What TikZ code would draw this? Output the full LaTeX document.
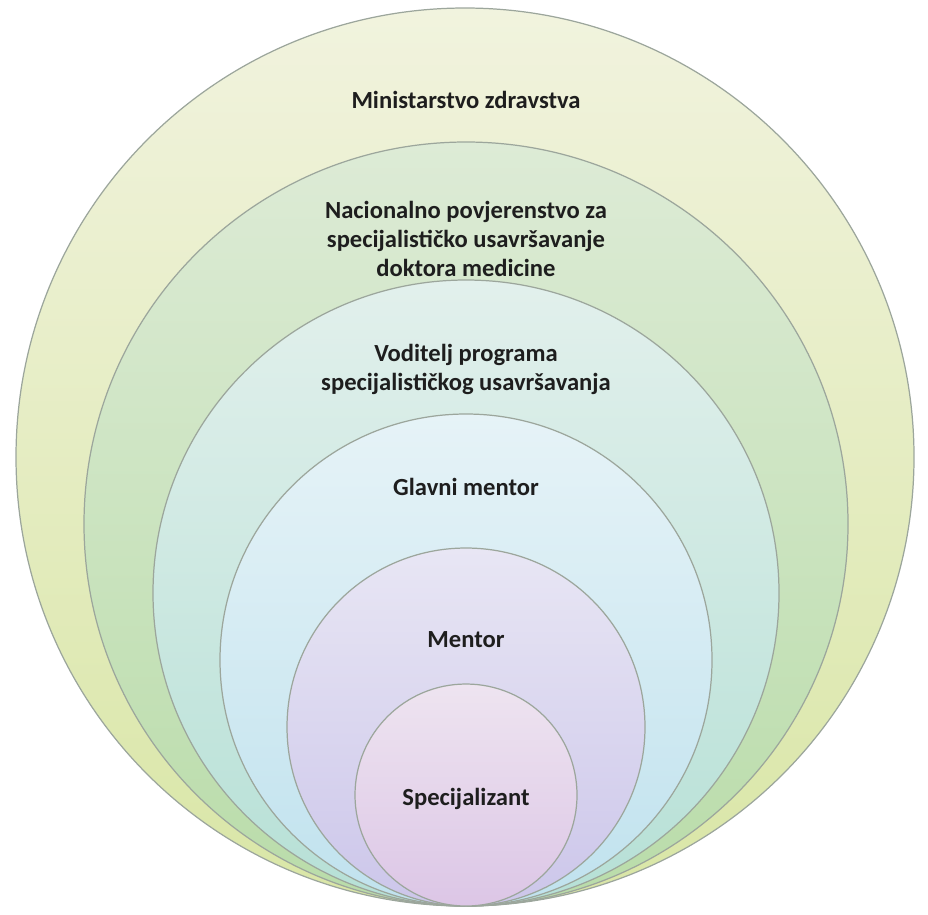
\documentclass[tikz,border=0pt]{standalone}
\usepackage{fontspec}
\setmainfont{Carlito}
\usepackage{xcolor}

\definecolor{ringAtop}{HTML}{F1F3DE}
\definecolor{ringAbot}{HTML}{D9E6A6}
\definecolor{ringBtop}{HTML}{DDEBD6}
\definecolor{ringBbot}{HTML}{B9DCA9}
\definecolor{ringCtop}{HTML}{E2F0EC}
\definecolor{ringCbot}{HTML}{B6E0D6}
\definecolor{ringDtop}{HTML}{E6F3F7}
\definecolor{ringDbot}{HTML}{C0E2EE}
\definecolor{ringEtop}{HTML}{E8E6F4}
\definecolor{ringEbot}{HTML}{CCC6EA}
\definecolor{ringFtop}{HTML}{EEE4F0}
\definecolor{ringFbot}{HTML}{DCC6E6}
\definecolor{rim}{HTML}{9CA69C}
\definecolor{ink}{HTML}{1E1E1E}

\begin{document}
\begin{tikzpicture}[x=0.02cm, y=-0.02cm,
    ring/.style={draw=rim, line width=0.7pt},
    label/.style={font=\fontsize{14}{16.5}\selectfont\bfseries, text=ink, align=center, inner sep=0pt}]
\useasboundingbox (0,0) rectangle (928,914);

\draw[ring, top color=ringAtop, bottom color=ringAbot] (465,457) circle [radius=449];
\draw[ring, top color=ringBtop, bottom color=ringBbot] (466,524) circle [radius=382];
\draw[ring, top color=ringCtop, bottom color=ringCbot] (466,593) circle [radius=313];
\draw[ring, top color=ringDtop, bottom color=ringDbot] (466,660) circle [radius=246];
\draw[ring, top color=ringEtop, bottom color=ringEbot] (466,727) circle [radius=179];
\draw[ring, top color=ringFtop, bottom color=ringFbot] (466,795) circle [radius=111];

\node[label] (ministry) at (466,100) {Ministarstvo zdravstva};
\node[label] (committee) at (466,239) {Nacionalno povjerenstvo za\\specijalističko usavršavanje\\doktora medicine};
\node[label] (head) at (466,369) {Voditelj programa\\specijalističkog usavršavanja};
\node[label] (mainmentor) at (466,487) {Glavni mentor};
\node[label] (mentor) at (466,640) {Mentor};
\node[label] (resident) at (466,799) {Specijalizant};
\end{tikzpicture}
\end{document}
